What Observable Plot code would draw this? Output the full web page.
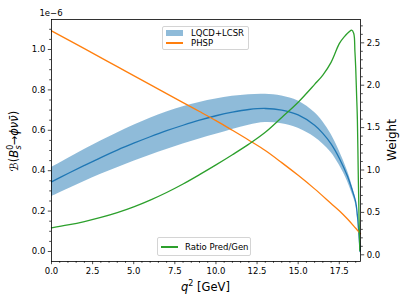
<!DOCTYPE html>
<html><head><meta charset="utf-8">
<script src="https://cdn.jsdelivr.net/npm/d3@7"></script>
<script src="https://cdn.jsdelivr.net/npm/@observablehq/plot@0.6"></script>
<style>
body{margin:0;background:#fff;}
#wrap{position:relative;width:407px;height:305px;font-family:"DejaVu Sans",sans-serif;}
.leg{position:absolute;background:rgba(255,255,255,0.8);border:1px solid #d4d4d4;border-radius:2px;font-size:8.5px;color:#000;box-sizing:border-box;}
.row{position:absolute;left:0;right:0;height:10px;}
.row span{position:absolute;line-height:10px;white-space:nowrap;}
.sw{position:absolute;}
</style></head><body><div id="wrap"></div><script>
// ---- data ----
const bandQ    = [0,1,2,3,4,5,6,7,8,9,10,11,12,13,14,15,16,16.5,17,17.5,18,18.3,18.5,18.6,18.7,18.76];
const bandMid  = [0.345,0.386,0.426,0.465,0.502,0.536,0.568,0.598,0.625,0.650,0.672,0.690,0.703,0.708,0.700,0.676,0.625,0.585,0.533,0.462,0.372,0.300,0.245,0.180,0.080,0.0];
const bandLow  = [0.272,0.310,0.347,0.382,0.415,0.447,0.477,0.505,0.532,0.557,0.580,0.604,0.625,0.638,0.632,0.610,0.566,0.532,0.490,0.428,0.347,0.282,0.232,0.170,0.075,0.0];
const bandHigh = [0.415,0.460,0.505,0.547,0.587,0.625,0.660,0.690,0.717,0.738,0.755,0.768,0.776,0.778,0.770,0.745,0.688,0.642,0.580,0.498,0.398,0.320,0.260,0.190,0.085,0.0];
const phspQ = [0,2,4,6,8,9,10,11,12,13,14,15,16,17,17.5,18,18.5,18.79];
const phsp  = [1.092,1.004,0.915,0.826,0.737,0.693,0.648,0.600,0.551,0.500,0.440,0.377,0.310,0.238,0.202,0.161,0.115,0.088];
const ratioQ = [0,1,2,3,4,5,6,7,8,9,10,11,12,13,14,15,16,16.5,17,17.5,17.8,18.1,18.25,18.38,18.45,18.5,18.55,18.6,18.65,18.7,18.75];
const ratio  = [0.318,0.352,0.392,0.440,0.497,0.565,0.645,0.735,0.835,0.945,1.060,1.180,1.305,1.445,1.620,1.800,2.010,2.120,2.270,2.490,2.570,2.630,2.650,2.610,2.400,2.200,1.900,1.600,1.000,0.450,0.050];
const xTicks = [0,2.5,5,7.5,10,12.5,15,17.5];
const yLeftTicks = [0,0.2,0.4,0.6,0.8,1.0];
const yRightTicks = [0,0.5,1.0,1.5,2.0,2.5];
const legendLabels = ["LQCD+LCSR","PHSP","Ratio Pred/Gen"];

// ---- scales ----
const xDom = [0, 18.79];
const yL = [-0.0495, 1.1485];
const yR = [-0.079, 2.775];
const toL = w => yL[0] + (w - yR[0]) / (yR[1] - yR[0]) * (yL[1] - yL[0]);
const toR = v => yR[0] + (v - yL[0]) / (yL[1] - yL[0]) * (yR[1] - yR[0]);

const band = bandQ.map((q,i)=>({q, lo:bandLow[i], hi:bandHigh[i], mid:bandMid[i]}));
const ph = phspQ.map((q,i)=>({q, v:phsp[i]}));
const ra = ratioQ.map((q,i)=>({q, w:ratio[i]}));

const range = (a,b,s)=>{const r=[];for(let v=a;v<=b+1e-9;v+=s)r.push(+v.toFixed(4));return r;};
const xMinor = range(0,18.5,0.5).filter(v=>!xTicks.includes(v));
const yLMinor = range(0,1.1,0.05).filter(v=>!yLeftTicks.some(t=>Math.abs(t-v)<1e-6));
const yRMinor = range(0,2.7,0.1).filter(v=>!yRightTicks.some(t=>Math.abs(t-v)<1e-6)).map(toL);

const C0="#1f77b4", C1="#ff7f0e", C2="#2ca02c";
const tickStyle = {stroke:"#000", strokeWidth:0.7};
const curve = "catmull-rom";

const plot = Plot.plot({
  width:407, height:305,
  marginLeft:51, marginRight:47, marginTop:19, marginBottom:44,
  x:{domain:xDom, axis:null},
  y:{domain:yL, axis:null},
  style:{fontFamily:"DejaVu Sans, sans-serif", fontSize:"8.5px", background:"#fff", overflow:"visible"},
  marks:[
    Plot.areaY(band,{x:"q", y1:"lo", y2:"hi", fill:C0, fillOpacity:0.5, curve}),
    Plot.lineY(band,{x:"q", y:"mid", stroke:C0, strokeWidth:1.3, curve}),
    Plot.lineY(ph,{x:"q", y:"v", stroke:C1, strokeWidth:1.3, curve}),
    Plot.lineY(ra,{x:"q", y:d=>toL(d.w), stroke:C2, strokeWidth:1.3, curve}),
    Plot.axisX(xTicks,{anchor:"bottom", tickSize:3.2, tickPadding:3, tickFormat:d=>d.toFixed(1), label:null, ...tickStyle, fill:"#000"}),
    Plot.axisX(xMinor,{anchor:"bottom", tickSize:1.8, tickFormat:()=>"", label:null, ...tickStyle}),
    Plot.axisY(yLeftTicks,{anchor:"left", tickSize:3.2, tickPadding:3, tickFormat:d=>d.toFixed(1), label:null, ...tickStyle, fill:"#000"}),
    Plot.axisY(yLMinor,{anchor:"left", tickSize:1.8, tickFormat:()=>"", label:null, ...tickStyle}),
    Plot.axisY(yRightTicks.map(toL),{anchor:"right", tickSize:3.2, tickPadding:3, tickFormat:d=>toR(d).toFixed(1), label:null, ...tickStyle, fill:"#000"}),
    Plot.axisY(yRMinor,{anchor:"right", tickSize:1.8, tickFormat:()=>"", label:null, ...tickStyle}),
    Plot.frame({stroke:"#000", strokeWidth:0.8})
  ]
});

const svg = d3.select(plot);
svg.append("text").attr("x",51).attr("y",16).attr("font-size","8.5px").attr("fill","#000").text("1e\u22126");
const xl = svg.append("text").attr("x",205.5).attr("y",291).attr("text-anchor","middle").attr("font-size","11.5px").attr("fill","#000");
xl.append("tspan").attr("font-style","italic").text("q");
xl.append("tspan").attr("font-size","8px").attr("dy",-5).text("2");
xl.append("tspan").attr("dy",5).text(" [GeV]");
const yl = svg.append("text").attr("transform","translate(18,141) rotate(-90)").attr("text-anchor","middle").attr("font-size","11.5px").attr("fill","#000");
yl.append("tspan").text("\u212C(");
yl.append("tspan").attr("font-style","italic").text("B");
yl.append("tspan").attr("font-size","8px").attr("dy",-5).text("0");
yl.append("tspan").attr("font-size","8px").attr("font-style","italic").attr("dx",-4.8).attr("dy",8).text("s");
yl.append("tspan").attr("dy",-3).text("\u2192");
yl.append("tspan").attr("font-style","italic").text("\u03D5\u03BD\u03BD\u0304");
yl.append("tspan").text(")");
svg.append("text").attr("transform","translate(396,140) rotate(-90)").attr("text-anchor","middle").attr("font-size","12px").attr("fill","#000").text("Weight");

const wrap = document.getElementById("wrap");
wrap.appendChild(plot);

function legend(left, top, w, h, items){
  const d = document.createElement("div");
  d.className="leg";
  Object.assign(d.style,{left:left+"px", top:top+"px", width:w+"px", height:h+"px"});
  items.forEach(it=>{
    const r=document.createElement("div"); r.className="row"; r.style.top=it.y+"px";
    const s=document.createElement("div"); s.className="sw";
    if(it.type==="patch"){Object.assign(s.style,{left:it.sx+"px",top:"2px",width:"17px",height:"6px",background:it.color,opacity:0.5});}
    else{Object.assign(s.style,{left:it.sx+"px",top:"4.4px",width:"17px",height:"1.3px",background:it.color});}
    const t=document.createElement("span"); t.style.left=it.tx+"px"; t.style.top="0px"; t.textContent=it.label;
    r.appendChild(s); r.appendChild(t); d.appendChild(r);
  });
  wrap.appendChild(d);
}
legend(162,26,87,24,[
  {type:"patch",color:C0,label:legendLabels[0],y:1,sx:3,tx:28},
  {type:"line",color:C1,label:legendLabels[1],y:11,sx:3,tx:28}
]);
legend(157,237,94,19,[
  {type:"line",color:C2,label:legendLabels[2],y:4,sx:3,tx:27}
]);
</script></body></html>
